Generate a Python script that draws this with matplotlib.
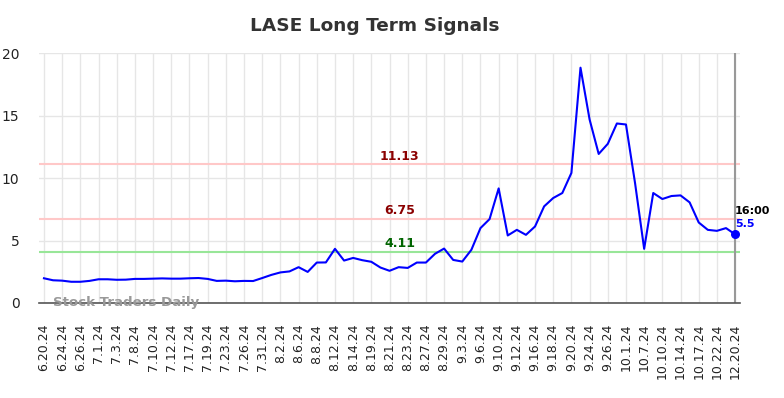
import matplotlib
matplotlib.use("Agg")
import matplotlib.pyplot as plt

# --- данные ---
tick_labels = [
    "6.20.24", "6.24.24", "6.26.24", "7.1.24", "7.3.24", "7.8.24", "7.10.24",
    "7.12.24", "7.17.24", "7.19.24", "7.23.24", "7.26.24", "7.31.24", "8.2.24",
    "8.6.24", "8.8.24", "8.12.24", "8.14.24", "8.19.24", "8.21.24", "8.23.24",
    "8.27.24", "8.29.24", "9.3.24", "9.6.24", "9.10.24", "9.12.24", "9.16.24",
    "9.18.24", "9.20.24", "9.24.24", "9.26.24", "10.1.24", "10.7.24",
    "10.10.24", "10.14.24", "10.17.24", "10.22.24", "12.20.24",
]
prices = [
    1.98, 1.82, 1.79, 1.70, 1.70, 1.77, 1.90, 1.90, 1.86, 1.87,
    1.93, 1.93, 1.95, 1.97, 1.95, 1.95, 1.98, 2.00, 1.93, 1.77,
    1.79, 1.74, 1.77, 1.76, 2.00, 2.25, 2.45, 2.53, 2.87, 2.49,
    3.24, 3.25, 4.34, 3.40, 3.61, 3.43, 3.30, 2.84, 2.58, 2.87,
    2.81, 3.24, 3.24, 3.94, 4.36, 3.45, 3.32, 4.26, 6.00, 6.72,
    9.18, 5.41, 5.86, 5.46, 6.13, 7.74, 8.41, 8.81, 10.42, 18.85,
    14.70, 11.94, 12.75, 14.38, 14.30, 9.60, 4.34, 8.81, 8.33, 8.57,
    8.62, 8.06, 6.45, 5.86, 5.78, 6.00, 5.50,
]
red_levels = [11.13, 6.75]
green_levels = [4.11]
last_time = "16:00"

x = list(range(len(prices)))
tick_pos = x[::2]

fig = plt.figure(figsize=(7.84, 3.98), dpi=100)
ax = fig.add_axes([0.0497, 0.2387, 0.8943, 0.6273])

ax.plot(x, prices, color="#0000ff", linewidth=1.5, zorder=3)
ax.scatter([x[-1]], [prices[-1]], color="#0000ff", s=30, zorder=4)

# подписи уровней чуть правее середины
lbl_x = (x[0] + x[-1]) / 2 + 1.1
for lvl in red_levels:
    ax.axhline(lvl, color="#ffc8c8", linewidth=1.5, zorder=2)
    ax.text(lbl_x, lvl + 0.62, f"{lvl:.2f}", color="#8b0000", fontsize=9,
            fontweight="bold", ha="center", va="center")
for lvl in green_levels:
    ax.axhline(lvl, color="#98e698", linewidth=1.5, zorder=2)
    ax.text(lbl_x, lvl + 0.62, f"{lvl:.2f}", color="#006400", fontsize=9,
            fontweight="bold", ha="center", va="center")

ax.axvline(x[-1], color="#999999", linewidth=1.5, zorder=2)
ax.text(x[-1], prices[-1] + 1.9, last_time, color="black", fontsize=8,
        fontweight="bold", ha="left", va="center")
ax.text(x[-1], prices[-1] + 0.8, f"{prices[-1]:g}", color="#0000ff", fontsize=8,
        fontweight="bold", ha="left", va="center")

ax.text(1, 0.0, "Stock Traders Daily", color="#999999", fontsize=9.6,
        fontweight="bold", ha="left", va="center", zorder=5)

ax.set_xlim(-0.55, x[-1] + 0.55)
ax.set_ylim(0, 20)
ax.set_yticks([0, 5, 10, 15, 20])
ax.set_xticks(tick_pos)
ax.set_xticklabels(tick_labels, rotation=90, fontsize=9, color="#222222")
ax.tick_params(axis="y", labelsize=10, colors="#222222", length=0, pad=14)
ax.tick_params(axis="x", length=0, pad=15)
ax.grid(True, color="#e6e6e6", linewidth=1)
ax.set_axisbelow(True)
for side in ("top", "right", "left"):
    ax.spines[side].set_visible(False)
ax.spines["bottom"].set_color("#555555")
ax.spines["bottom"].set_linewidth(1.2)

fig.text(0.478, 0.935, "LASE Long Term Signals", ha="center", va="center",
         fontsize=13.3, fontweight="bold", color="#333333")

fig.savefig("out.png", dpi=100)
plt.close(fig)
